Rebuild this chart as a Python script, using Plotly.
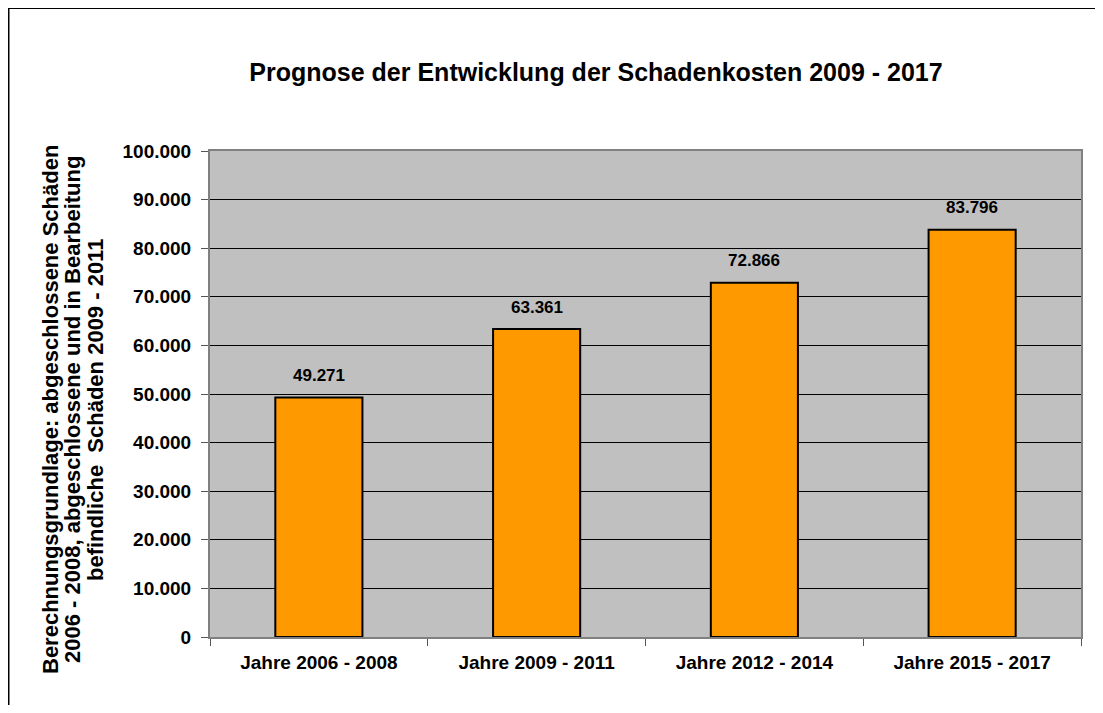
import plotly.graph_objects as go

categories = ["Jahre 2006 - 2008", "Jahre 2009 - 2011", "Jahre 2012 - 2014", "Jahre 2015 - 2017"]
values = [49271, 63361, 72866, 83796]
labels = ["49.271", "63.361", "72.866", "83.796"]
tick_vals = [0, 10000, 20000, 30000, 40000, 50000, 60000, 70000, 80000, 90000, 100000]

title_text = "Prognose der Entwicklung der Schadenkosten 2009 - 2017"
y_title_lines = ["Berechnungsgrundlage: abgeschlossene Schäden",
                 "2006 - 2008, abgeschlossene und in Bearbeitung",
                 "befindliche  Schäden 2009 - 2011"]

FONT = "Liberation Sans, Arial, sans-serif"

# page offset (browser body margin) and plot geometry in screen pixels
OFF = 8
FIG_W, FIG_H = 1103 - 2 * OFF, 713 - 2 * OFF
PL, PR, PT, PB = 210, 1081, 151, 637
PW, PH = PR - PL, PB - PT


def px_x(sx):
    return (sx - PL) / PW


def px_y(sy):
    return (PB - sy) / PH


fig = go.Figure()
fig.add_trace(go.Bar(
    x=categories, y=values,
    marker=dict(color="#FF9900", line=dict(color="#000000", width=2)),
    hoverinfo="skip",
))

for c, v, t in zip(categories, values, labels):
    fig.add_annotation(x=c, y=v, text=t, showarrow=False,
                       yanchor="middle", yshift=22,
                       font=dict(family=FONT, size=17, color="#000000", weight="bold"))

for line, sx in zip(y_title_lines, [50, 72, 95]):
    fig.add_annotation(xref="paper", yref="paper", x=px_x(sx), y=px_y(410),
                       text=line, showarrow=False, textangle=-90,
                       xanchor="center", yanchor="middle",
                       font=dict(family=FONT, size=22, color="#000000", weight="bold"))

# outer frame (top and left)
fig.add_shape(type="line", xref="paper", yref="paper",
              x0=px_x(8), x1=px_x(1110), y0=px_y(8), y1=px_y(8),
              line=dict(color="#000000", width=2))
fig.add_shape(type="line", xref="paper", yref="paper",
              x0=px_x(8.5), x1=px_x(8.5), y0=px_y(8), y1=px_y(720),
              line=dict(color="#000000", width=2))

fig.update_layout(
    width=FIG_W, height=FIG_H,
    margin=dict(l=PL - OFF, r=OFF + FIG_W - PR, t=PT - OFF, b=OFF + FIG_H - PB),
    paper_bgcolor="#FFFFFF",
    plot_bgcolor="#C0C0C0",
    separators=",.",
    showlegend=False,
    bargap=0.6,
    title=dict(text=title_text, x=(596 - OFF) / FIG_W, xanchor="center",
               y=1 - (72 - OFF) / FIG_H, yanchor="middle",
               font=dict(family=FONT, size=25, color="#000000", weight="bold")),
    font=dict(family=FONT, color="#000000"),
)

fig.update_yaxes(
    range=[0, 100000], tickvals=tick_vals, tickformat=",.0f",
    showgrid=True, gridcolor="#000000", gridwidth=1,
    ticks="outside", ticklen=7, tickcolor="#555555", tickwidth=1,
    showline=True, linecolor="#808080", linewidth=2, mirror=True,
    tickfont=dict(family=FONT, size=19, color="#000000", weight="bold"),
    zeroline=False, ticklabelstandoff=6,
)
fig.update_xaxes(
    showgrid=False, ticks="outside", tickson="boundaries", ticklen=7,
    tickcolor="#555555", tickwidth=1,
    showline=True, linecolor="#808080", linewidth=2, mirror=True,
    tickfont=dict(family=FONT, size=19, color="#000000", weight="bold"),
    ticklabelstandoff=7,
)

fig.write_html("out.html")
